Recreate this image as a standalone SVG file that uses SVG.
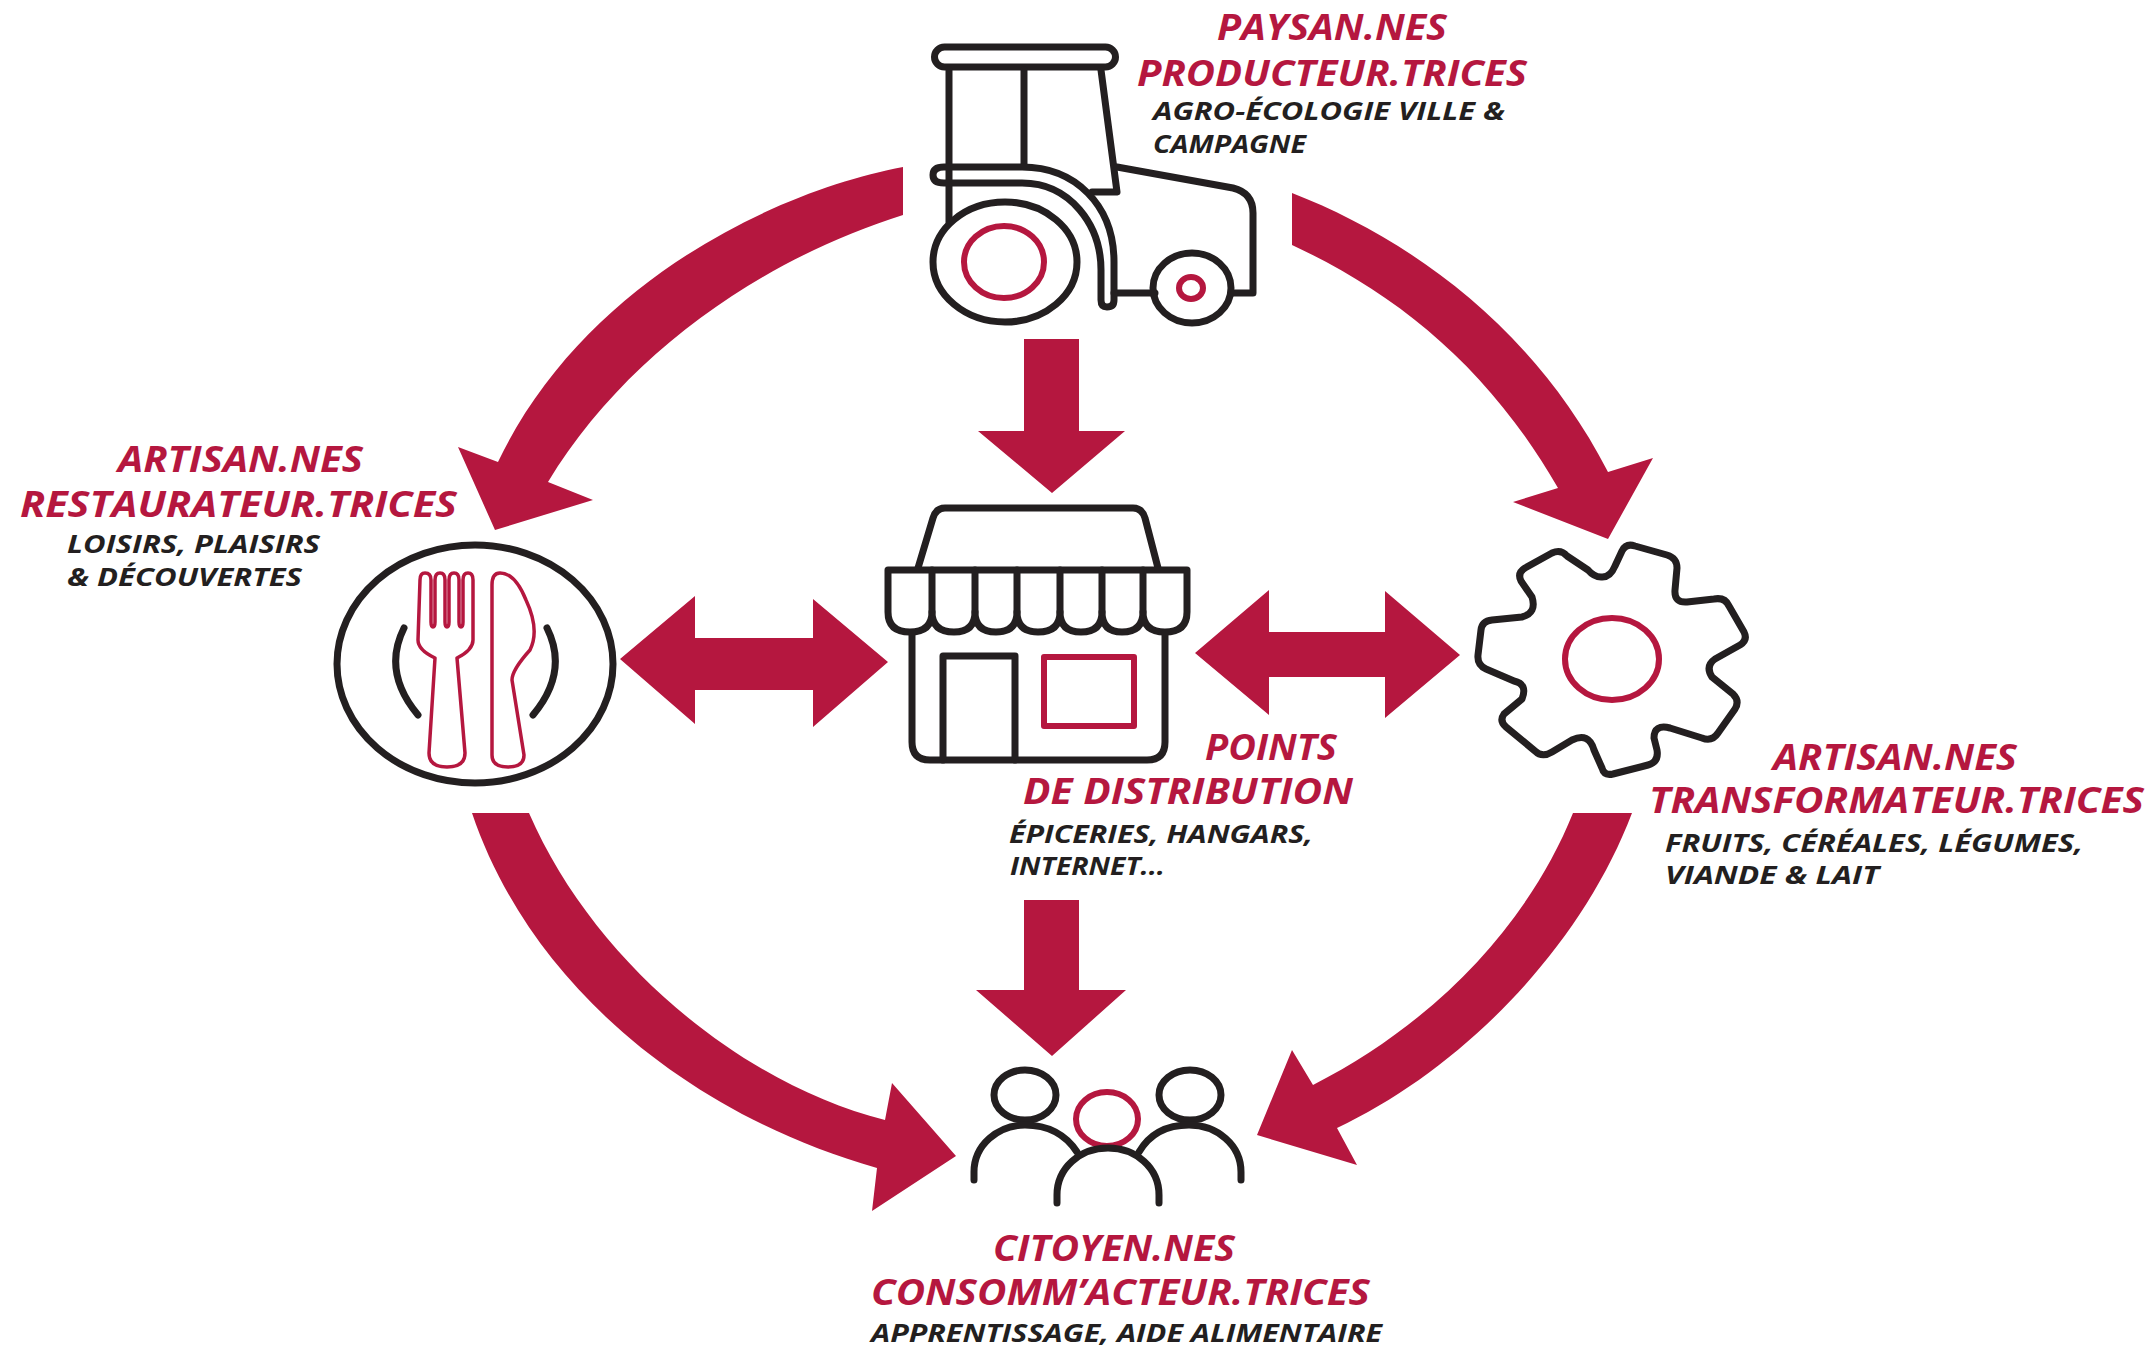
<svg xmlns="http://www.w3.org/2000/svg" width="2150" height="1349" viewBox="0 0 2150 1349">
<style>
.k{fill:none;stroke:#231f20;stroke-width:7;stroke-linecap:round;stroke-linejoin:round}
.r{fill:none;stroke:#b5173f;stroke-width:6;stroke-linejoin:round}
.t{fill:none;stroke:#b5173f;stroke-width:3.5;stroke-linejoin:round}
.a{fill:#b5173f}
.h{font-family:"Open Sans","Liberation Sans",sans-serif;font-weight:700;font-style:italic;font-size:35px;fill:#b5173f}
.s{font-family:"Open Sans","Liberation Sans",sans-serif;font-weight:700;font-style:italic;font-size:25px;fill:#231f20}
</style>
<rect width="2150" height="1349" fill="#fff"/>
<g id="connectors">
<path class="a" d="M903,167V215C760,260 625,355 548,482L593,500L495,530L458,447L498,462C585,280 780,190 903,167Z"/>
<path class="a" d="M1292,193V245C1400,295 1490,370 1558,488L1513,502L1608,539L1653,458L1608,472C1530,320 1400,235 1292,193Z"/>
<path class="a" d="M1024,339H1079V431H1125L1052,493L978,431H1024Z"/>
<path class="a" d="M1024,900H1079V990H1126L1052,1056L976,990H1024Z"/>
<path class="a" d="M620,659L695,596V638H813V599L888,662L813,727V690H695V724Z"/>
<path class="a" d="M1195,653L1269,590V632H1385V591L1460,655L1385,718V677H1269V715Z"/>
<path class="a" d="M472,813H529C595,965 745,1085 885,1120L892,1083L956,1156L872,1211L877,1168C690,1115 530,985 472,813Z"/>
<path class="a" d="M1573,813H1632C1580,950 1460,1070 1337,1128L1357,1165L1257,1135L1292,1050L1313,1085C1440,1020 1530,920 1573,813Z"/>
</g>
<g id="tractor">
<rect class="k" x="934.500" y="47" width="181" height="20" rx="10"/>
<path class="k" d="M949,70V222M1024,70V165M1101,70L1117,192H1092"/>
<path class="k" d="M1117,167L1233,188Q1253,193 1253,213V293H1233M1155,293H1114"/>
<path class="k" d="M1022,167H944Q933,167 933,175Q933,183 944,183H1022C1070,183 1101,225 1101,270V300Q1101,307 1107,307Q1114,307 1114,300V262C1114,205 1075,167 1022,167Z"/>
<ellipse class="k" cx="1005" cy="262" rx="72" ry="60"/>
<ellipse class="r" cx="1004" cy="262" rx="40" ry="36"/>
<ellipse class="k" cx="1192" cy="288" rx="39" ry="35"/>
<ellipse class="r" cx="1191" cy="288" rx="12" ry="11"/>
</g>
<g id="plate">
<ellipse class="k" cx="475" cy="664" rx="138" ry="119"/>
<path class="k" d="M404,628Q382,672 418,715M547,628Q569,672 533,715"/>
<path class="t" d="M420,580Q420,573 425,573Q431,573 431,580V622Q431,627 433,627Q435,627 435,622V580Q435,573 440,573Q445,573 445,580V622Q445,627 447,627Q449,627 449,622V580Q449,573 454,573Q459,573 459,580V622Q459,627 461,627Q463,627 463,622V580Q463,573 468,573Q473,573 473,580V640Q473,650 457,658L465,753Q465,767 447,767Q429,767 429,753L435,658Q418,650 418,640Z"/>
<path class="t" d="M492,585Q492,573 500,573Q515,573 526,600Q540,630 530,650Q512,670 512,680L524,755Q524,767 508,767Q492,767 492,755Z"/>
</g>
<g id="shop">
<path class="k" d="M918,568L933,518Q936,508 945,508H1133Q1142,508 1145,518L1158,568"/>
<path class="k" d="M888,570H1187V612Q1187,632 1165,632Q1143,632 1143,612Q1143,632 1122,632Q1102,632 1102,612Q1102,632 1081,632Q1060,632 1060,612Q1060,632 1038,632Q1017,632 1017,612Q1017,632 996,632Q975,632 975,612Q975,632 954,632Q932,632 932,612Q932,632 910,632Q888,632 888,612Z"/>
<path class="k" d="M932,570V612M975,570V612M1017,570V612M1060,570V612M1102,570V612M1143,570V612"/>
<path class="k" d="M912,633V742Q912,760 930,760H1147Q1165,760 1165,742V633"/>
<path class="k" d="M943,760V656H1015V760"/>
<rect class="r" x="1044" y="657" width="90" height="69"/>
</g>
<g id="gear">
<path class="k" d="M1601,577Q1610,578 1615,566L1622,551Q1626,543 1635,546L1667,555Q1677,558 1677,568L1675,590Q1674,603 1687,602L1714,599Q1725,597 1729,606L1744,632Q1748,640 1740,645L1715,659Q1705,666 1712,677L1733,694Q1740,701 1735,709L1718,733Q1712,742 1702,738L1670,728Q1654,724 1654,738L1657,750Q1659,762 1648,765L1613,774Q1604,776 1602,768L1594,750Q1589,732 1572,740L1552,752Q1542,758 1535,751L1506,727Q1499,721 1504,714L1522,699Q1528,684 1514,681L1486,669Q1477,665 1478,655L1481,630Q1482,621 1492,620L1522,617Q1537,613 1532,597L1521,581Q1517,573 1525,568L1552,553Q1561,549 1567,556L1588,570Q1594,577 1601,577Z"/>
<ellipse class="r" cx="1612" cy="659" rx="47" ry="41"/>
</g>
<g id="people">
<ellipse class="k" cx="1025" cy="1095" rx="31" ry="25"/>
<ellipse class="k" cx="1190" cy="1095" rx="31" ry="25"/>
<ellipse class="r" cx="1107" cy="1119" rx="31" ry="27"/>
<path class="k" d="M974,1180V1172C974,1145 998,1125 1025,1125C1048,1125 1066,1135 1077,1152"/>
<path class="k" d="M1241,1180V1172C1241,1145 1217,1125 1189,1125C1166,1125 1149,1135 1139,1152"/>
<path class="k" d="M1057,1203V1195C1057,1168 1080,1148 1108,1148C1136,1148 1159,1168 1159,1195V1203"/>
</g>
<g id="label-paysan">
<text class="h" x="1217" y="40" textLength="230" lengthAdjust="spacingAndGlyphs">PAYSAN.NES</text>
<text class="h" x="1137" y="86" textLength="390" lengthAdjust="spacingAndGlyphs">PRODUCTEUR.TRICES</text>
<text class="s" x="1153" y="120" textLength="352" lengthAdjust="spacingAndGlyphs">AGRO-ÉCOLOGIE VILLE &amp;</text>
<text class="s" x="1153" y="153" textLength="153" lengthAdjust="spacingAndGlyphs">CAMPAGNE</text>
</g>
<g id="label-restaurateur">
<text class="h" x="118" y="472" textLength="245" lengthAdjust="spacingAndGlyphs">ARTISAN.NES</text>
<text class="h" x="20" y="517" textLength="437" lengthAdjust="spacingAndGlyphs">RESTAURATEUR.TRICES</text>
<text class="s" x="67" y="553" textLength="253" lengthAdjust="spacingAndGlyphs">LOISIRS, PLAISIRS</text>
<text class="s" x="67" y="586" textLength="235" lengthAdjust="spacingAndGlyphs">&amp; DÉCOUVERTES</text>
</g>
<g id="label-distribution">
<text class="h" x="1205" y="760" textLength="132" lengthAdjust="spacingAndGlyphs">POINTS</text>
<text class="h" x="1023" y="804" textLength="330" lengthAdjust="spacingAndGlyphs">DE DISTRIBUTION</text>
<text class="s" x="1009" y="843" textLength="304" lengthAdjust="spacingAndGlyphs">ÉPICERIES, HANGARS,</text>
<text class="s" x="1010" y="875" textLength="155" lengthAdjust="spacingAndGlyphs">INTERNET...</text>
</g>
<g id="label-transformateur">
<text class="h" x="1773" y="770" textLength="244" lengthAdjust="spacingAndGlyphs">ARTISAN.NES</text>
<text class="h" x="1649" y="813" textLength="495" lengthAdjust="spacingAndGlyphs">TRANSFORMATEUR.TRICES</text>
<text class="s" x="1665" y="852" textLength="418" lengthAdjust="spacingAndGlyphs">FRUITS, CÉRÉALES, LÉGUMES,</text>
<text class="s" x="1665" y="884" textLength="214" lengthAdjust="spacingAndGlyphs">VIANDE &amp; LAIT</text>
</g>
<g id="label-citoyen">
<text class="h" x="993" y="1261" textLength="242" lengthAdjust="spacingAndGlyphs">CITOYEN.NES</text>
<text class="h" x="871" y="1305" textLength="499" lengthAdjust="spacingAndGlyphs">CONSOMM’ACTEUR.TRICES</text>
<text class="s" x="871" y="1342" textLength="511" lengthAdjust="spacingAndGlyphs">APPRENTISSAGE, AIDE ALIMENTAIRE</text>
</g>
</svg>
